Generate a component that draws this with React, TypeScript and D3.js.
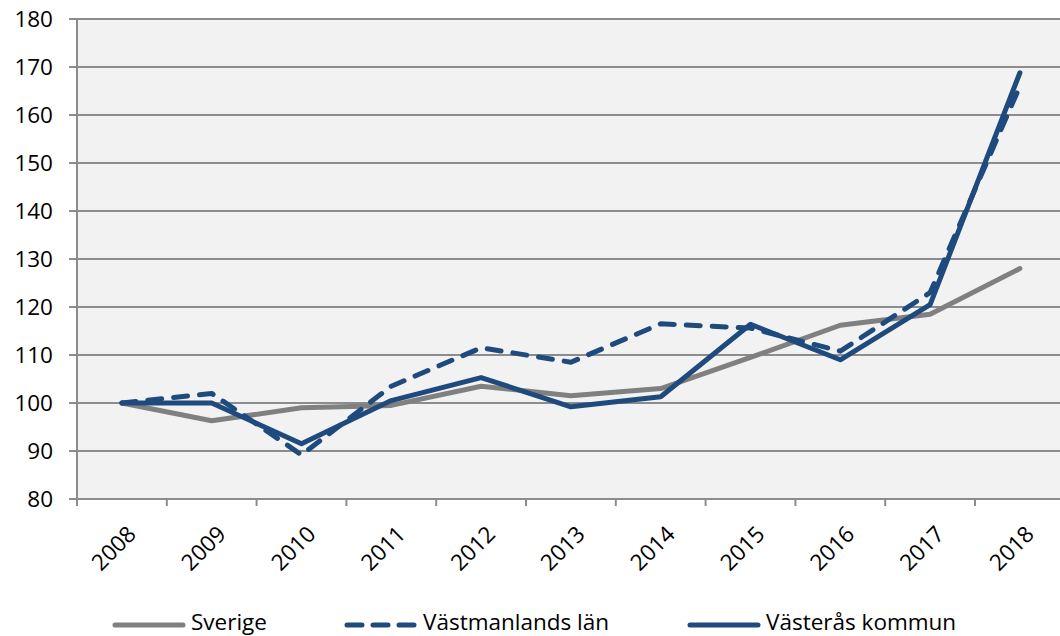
import React from "react";
import * as d3 from "d3";

const years = ["2008", "2009", "2010", "2011", "2012", "2013", "2014", "2015", "2016", "2017", "2018"];
const sverige = [100, 96.3, 99, 99.5, 103.5, 101.5, 103, 109.5, 116.2, 118.5, 128];
const vastmanland = [100, 102, 89.2, 103.5, 111.5, 108.5, 116.5, 115.6, 110.8, 123, 166];
const vasteras = [100, 100, 91.5, 100.5, 105.3, 99.2, 101.3, 116.4, 109, 120.5, 168.8];
const yTicks = [80, 90, 100, 110, 120, 130, 140, 150, 160, 170, 180];
const legendNames = ["Sverige", "Västmanlands län", "Västerås kommun"];

const W = 1060, H = 636;
const left = 77, top = 19, bottom = 499;
const bandW = 89.8;
const FONT = "'Open Sans', sans-serif";
const FS = 22.5;
const GRAY = "#8c8c8c";
const BLUE = "#1f4a7e";

export default function App() {
  const x = d3.scaleBand<string>().domain(years).range([left, left + bandW * years.length]).padding(0);
  const y = d3.scaleLinear().domain([80, 180]).range([bottom, top]);
  const cx = (yr: string) => (x(yr) as number) + x.bandwidth() / 2;
  const line = d3.line<number>().x((_, i) => cx(years[i])).y((d) => y(d));

  const series = [
    { name: legendNames[0], values: sverige, color: "#808080", dash: undefined as string | undefined, width: 5 },
    { name: legendNames[1], values: vastmanland, color: BLUE, dash: "14 12", width: 5 },
    { name: legendNames[2], values: vasteras, color: BLUE, dash: undefined, width: 5 },
  ];
  const legendX = [113, 345, 688];

  return (
    <svg width={W} height={H} style={{ position: "absolute", left: 0, top: 0, background: "#fff" }}>
      <rect x={left} y={top} width={W - left} height={bottom - top} fill="#f2f2f2" />
      {yTicks.map((t) => (
        <g key={t}>
          <line x1={69} x2={W} y1={y(t)} y2={y(t)} stroke={GRAY} strokeWidth={2} />
          <text x={53} y={y(t)} dy="0.35em" textAnchor="end" fontFamily={FONT} fontSize={FS} fill="#000">
            {t}
          </text>
        </g>
      ))}
      <line x1={left} x2={left} y1={top} y2={bottom + 7} stroke={GRAY} strokeWidth={2} />
      {years.map((yr) => (
        <line key={"t" + yr} x1={(x(yr) as number) + bandW} x2={(x(yr) as number) + bandW} y1={bottom} y2={bottom + 7} stroke={GRAY} strokeWidth={2} />
      ))}
      {years.map((yr) => (
        <text
          key={"l" + yr}
          transform={`translate(${cx(yr) + 10},${bottom + 31}) rotate(-45)`}
          textAnchor="end"
          dy="0.35em"
          fontFamily={FONT}
          fontSize={FS}
          fill="#000"
        >
          {yr}
        </text>
      ))}
      {series.map((s) => (
        <path
          key={s.name}
          d={line(s.values) as string}
          fill="none"
          stroke={s.color}
          strokeWidth={s.width}
          strokeDasharray={s.dash}
          strokeLinecap="round"
          strokeLinejoin="round"
        />
      ))}
      {series.map((s, i) => (
        <g key={"lg" + s.name}>
          <line x1={legendX[i] + 2} x2={legendX[i] + 70} y1={625} y2={625} stroke={s.color} strokeWidth={5} strokeDasharray={s.dash ? "15 11" : undefined} strokeLinecap="round" />
          <text x={legendX[i] + 78} y={622} dy="0.35em" fontFamily={FONT} fontSize={FS} fill="#000">
            {s.name}
          </text>
        </g>
      ))}
    </svg>
  );
}
